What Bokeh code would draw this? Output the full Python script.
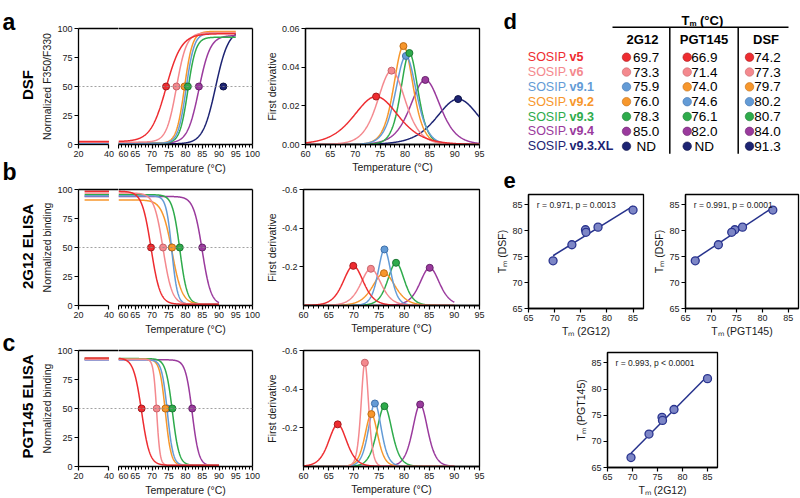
import numpy as np
from bokeh.plotting import figure
from bokeh.layouts import row, column
from bokeh.models import Range1d, LinearAxis, FixedTicker, Span, Title, Spacer, NumeralTickFormatter
from bokeh.core.properties import value
from bokeh.embed import file_html
from bokeh.resources import INLINE

FONT = "Liberation Sans"
INK = "#1a1a1a"

# ---------------- data ----------------
variant_tags = ["v5", "v6", "v9.1", "v9.2", "v9.3", "v9.4", "v9.3.XL"]
variant_colors = ["#ee2c30", "#f4898e", "#639bd6", "#f7972c", "#2eab4b", "#9a3a9d", "#1d2473"]
variant_edges = ["#a51b1f", "#c8636a", "#3d6fa9", "#bf6c12", "#1c7834", "#66226b", "#0d1245"]

tm_2g12 = [69.7, 73.3, 75.9, 76.0, 78.3, 85.0, None]
tm_pgt145 = [66.9, 71.4, 74.6, 74.0, 76.1, 82.0, None]
tm_dsf = [74.2, 77.3, 80.2, 79.7, 80.7, 84.0, 91.3]

# panel a: DSF melting curves (Boltzmann fit parameters)
dsf_mid = [74.2, 77.3, 80.2, 79.7, 80.7, 84.0, 89.0]
dsf_slope = [2.3, 1.5, 1.2, 1.2, 1.2, 1.7, 1.9]
dsf_low = [2.5, 2.0, 1.0, 1.0, 1.0, 1.0, 0.5]
dsf_high = [95.5, 96.5, 96.0, 97.5, 92.5, 94.0, 99.0]
dsf_peak_t = [74.2, 77.3, 80.2, 79.7, 80.9, 84.1, 90.7]
dsf_peak = [0.0248, 0.0382, 0.0458, 0.0509, 0.0473, 0.0334, 0.0235]
dsf_width = [3.0, 1.85, 1.4, 1.3, 1.15, 2.0, 2.9]

# panel b: 2G12 ELISA
g12_high = [98.5, 97.0, 94.5, 91.0, 95.5, 94.0]
g12_low = [1.0, 1.0, 1.0, 1.0, 1.0, 0.5]
g12_slope = [1.35, 1.35, 0.85, 1.5, 1.1, 1.3]
g12_peak_t = [69.9, 73.4, 76.1, 76.0, 78.4, 85.1]
g12_peak = [-0.205, -0.190, -0.290, -0.167, -0.221, -0.195]

# panel c: PGT145 ELISA
pgt_high = [93.5, 92.5, 92.0, 92.5, 93.0, 92.0]
pgt_low = [1.0, 1.0, 1.0, 1.0, 1.0, 0.5]
pgt_slope = [1.2, 0.5, 0.85, 0.85, 1.0, 1.0]
pgt_peak_t = [66.8, 72.2, 74.2, 73.5, 76.1, 83.2]
pgt_peak = [-0.218, -0.537, -0.326, -0.271, -0.312, -0.321]

# panel e
corr_notes = ["r = 0.971, p = 0.0013", "r = 0.991, p = 0.0001", "r = 0.993, p < 0.0001"]

temp_ticks = [60, 65, 70, 75, 80, 85, 90, 95, 100]
temp_minor = [t for t in range(60, 101) if t % 5]
low_ticks = [20, 40]
pct_ticks = [0, 25, 50, 75, 100]
dsf_deriv_ticks = [0.0, 0.02, 0.04, 0.06]
elisa_deriv_ticks = [-0.6, -0.4, -0.2]
tm_ticks = [65, 70, 75, 80, 85]
HALF = 50


def boltz(t, mid, s, lo, hi, rising):
    z = (mid - t) / s if rising else (t - mid) / s
    return lo + (hi - lo) / (1.0 + np.exp(z))


def peak_curve(t, t0, h, s):
    return h / np.cosh((t - t0) / (2.0 * s)) ** 2


def style_axis(ax, ticks, minor=(), label=None, fmt=None):
    ax.ticker = FixedTicker(ticks=list(ticks), minor_ticks=list(minor))
    ax.axis_line_color = "black"
    ax.axis_line_width = 1.3
    ax.major_tick_line_color = "black"
    ax.major_tick_line_width = 1.2
    ax.major_tick_in = 0
    ax.major_tick_out = 4
    ax.minor_tick_line_color = "black"
    ax.minor_tick_line_width = 1
    ax.minor_tick_in = 0
    ax.minor_tick_out = 3
    ax.major_label_text_font = FONT
    ax.major_label_text_font_size = "9px"
    ax.major_label_text_color = INK
    ax.major_label_standoff = 2
    if label:
        ax.axis_label = label
        ax.axis_label_text_font = FONT
        ax.axis_label_text_font_size = "10.5px"
        ax.axis_label_text_font_style = "normal"
        ax.axis_label_text_color = INK
        ax.axis_label_standoff = 1
    if fmt is not None:
        ax.formatter = fmt
    return ax


def border_axis():
    return LinearAxis(ticker=FixedTicker(ticks=[], minor_ticks=[]), axis_line_width=1.3,
                      axis_line_color="black", major_tick_in=0, major_tick_out=0,
                      minor_tick_in=0, minor_tick_out=0, major_label_text_font_size="0px")


def base_fig(**kw):
    return figure(output_backend="svg", toolbar_location=None, x_axis_type=None,
                  y_axis_type=None, **kw)


def melt_panel(h, top, bottom, rising, mids, slopes, lows, highs, tms, t_start, t_end, ylabel, n):
    common = dict(height=h, y_range=Range1d(0, 100), min_border_top=top, min_border_bottom=bottom,
                  outline_line_color=None)
    pl = base_fig(width=80, x_range=Range1d(20, 46.25), min_border_left=38, min_border_right=0, **common)
    pr = base_fig(width=144, x_range=Range1d(60, 100), min_border_left=0, min_border_right=10, **common)
    for p in (pl, pr):
        p.add_layout(Span(location=HALF, dimension="width", line_color="#8a8a8a",
                          line_dash="2 2", line_width=0.8))
        p.add_layout(border_axis(), "above")
    pl.add_layout(style_axis(LinearAxis(), pct_ticks, label=ylabel), "left")
    pl.add_layout(style_axis(LinearAxis(bounds=(20, 40)), low_ticks), "below")
    pr.add_layout(style_axis(LinearAxis(), temp_ticks, temp_minor), "below")
    pr.add_layout(border_axis(), "right")
    pr.add_layout(Title(text="Temperature (°C)", align="center", offset=-21, standoff=1,
                        text_font=FONT, text_font_size="10.5px", text_font_style="normal",
                        text_color=INK), "below")
    tl = np.linspace(t_start, 40, 60)
    tr = np.linspace(60, t_end, 400)
    for i in range(n - 1, -1, -1):
        pl.line(tl, boltz(tl, mids[i], slopes[i], lows[i], highs[i], rising),
                line_color=variant_colors[i], line_width=1.5)
        pr.line(tr, boltz(tr, mids[i], slopes[i], lows[i], highs[i], rising),
                line_color=variant_colors[i], line_width=1.5)
    pr.scatter(tms[:n], [HALF] * n, size=7, fill_color=variant_colors[:n],
               line_color=variant_edges[:n], line_width=1)
    return pl, pr


def deriv_panel(h, top, bottom, y_end, yticks, fmt, peak_t, peaks, widths, t_end, n):
    p = base_fig(width=228, height=h, x_range=Range1d(60, 95), y_range=Range1d(0, y_end),
                 min_border_left=40, min_border_right=11, min_border_top=top,
                 min_border_bottom=bottom, outline_line_color="black", outline_line_width=1.3)
    p.add_layout(style_axis(LinearAxis(), yticks, label="First derivative", fmt=fmt), "left")
    p.add_layout(style_axis(LinearAxis(), temp_ticks[:-1], [m for m in temp_minor if m < 95],
                            label="Temperature (°C)"), "below")
    t = np.linspace(60, t_end, 400)
    for i in range(n - 1, -1, -1):
        p.line(t, peak_curve(t, peak_t[i], peaks[i], widths[i]),
               line_color=variant_colors[i], line_width=1.5)
    p.scatter(peak_t[:n], peaks[:n], size=7, fill_color=variant_colors[:n],
              line_color=variant_edges[:n], line_width=1)
    return p


# ---------- row a ----------
aL, aR = melt_panel(175, 25, 31, True, dsf_mid, dsf_slope, dsf_low, dsf_high, tm_dsf, 20, 95,
                    "Normalized F350/F330", 7)
aD = deriv_panel(175, 28, 30, 0.06, dsf_deriv_ticks, NumeralTickFormatter(format="0.00"),
                 dsf_peak_t, dsf_peak, dsf_width, 95, 7)
# ---------- row b ----------
bL, bR = melt_panel(161, 12, 30, False, tm_2g12, g12_slope, g12_low, g12_high, tm_2g12, 24, 90,
                    "Normalized binding", 6)
bD = deriv_panel(161, 14, 30, -0.6, elisa_deriv_ticks, NumeralTickFormatter(format="0.0"),
                 g12_peak_t, g12_peak, g12_slope, 90, 6)
# ---------- row c ----------
cL, cR = melt_panel(162, 11, 32, False, tm_pgt145, pgt_slope, pgt_low, pgt_high, tm_pgt145, 24, 90,
                    "Normalized binding", 6)
cD = deriv_panel(162, 14, 32, -0.6, elisa_deriv_ticks, NumeralTickFormatter(format="0.0"),
                 pgt_peak_t, pgt_peak, pgt_slope, 90, 6)

# ---------- left label strip ----------
strip = base_fig(width=38, height=498, x_range=Range1d(0, 38), y_range=Range1d(498, 0),
                 min_border=0, outline_line_color=None)
strip.text(x=[2, 2, 2], y=[21, 171, 342], text=["a", "b", "c"], text_font=value(FONT),
           text_font_size="23px", text_font_style="bold", text_color="black",
           text_align="left", text_baseline="alphabetic")
strip.text(x=[27, 27, 27], y=[84.5, 246, 406], text=["DSF", "2G12 ELISA", "PGT145 ELISA"],
           angle=np.pi / 2, text_font=value(FONT), text_font_size="15px", text_font_style="bold",
           text_color="black", text_align="center", text_baseline="middle")

# ---------- panel d table ----------
tab = base_fig(width=310, height=193, x_range=Range1d(490, 800), y_range=Range1d(193, 0),
               min_border=0, outline_line_color=None)
row_y0, row_pitch = 56.7, 14.83
rows_y = [row_y0 + k * row_pitch for k in range(len(variant_tags))]
label_x = 527.3
tab.text(x=[label_x] * 7, y=rows_y, text=["SOSIP."] * 7, text_font=value(FONT),
         text_font_size="12.5px", text_color=variant_colors, text_align="left",
         text_baseline="middle")
tab.text(x=[label_x + 41.7] * 7, y=rows_y, text=variant_tags, text_font=value(FONT),
         text_font_size="12.5px", text_font_style="bold", text_color=variant_colors,
         text_align="left", text_baseline="middle")
col_names = ["2G12", "PGT145", "DSF"]
col_head_x = [642, 703.5, 765.5]
col_dot_x = [626, 686.7, 749]
col_val_x = [645.7, 703.8, 767]
tab.text(x=col_head_x, y=[39] * 3, text=col_names, text_font=value(FONT), text_font_size="13px",
         text_font_style="bold", text_color="black", text_align="center", text_baseline="middle")
tab.text(x=[681], y=[20], text=["T"], text_font=value(FONT), text_font_size="13px",
         text_font_style="bold", text_color="black", text_align="left", text_baseline="alphabetic")
tab.text(x=[689], y=[23], text=["m"], text_font=value(FONT), text_font_size="8px",
         text_font_style="bold", text_color="black", text_align="left", text_baseline="alphabetic")
tab.text(x=[699.5], y=[20], text=["(°C)"], text_font=value(FONT), text_font_size="13px",
         text_font_style="bold", text_color="black", text_align="left", text_baseline="alphabetic")
tab.segment(x0=[612], y0=[26.7], x1=[788], y1=[26.7], line_color="black", line_width=1.5)
tab.segment(x0=[669.3, 737.7], y0=[26.7, 26.7], x1=[669.3, 737.7], y1=[153.3, 153.3],
            line_color="black", line_width=1.5)
for c, vals in enumerate([tm_2g12, tm_pgt145, tm_dsf]):
    order = sorted(range(len(vals)), key=lambda i: (vals[i] is None, vals[i] or 0))
    tab.scatter([col_dot_x[c]] * 7, rows_y, size=8.5,
                fill_color=[variant_colors[i] for i in order],
                line_color=[variant_edges[i] for i in order], line_width=0.6)
    tab.text(x=[col_val_x[c]] * 7, y=rows_y,
             text=["ND" if vals[i] is None else f"{vals[i]:.1f}" for i in order],
             text_font=value(FONT), text_font_size="13.5px", text_color="black",
             text_align="center", text_baseline="middle")
tab.text(x=[503, 503], y=[21, 180], text=["d", "e"], text_font=value(FONT),
         text_font_size="22px", text_font_style="bold", text_color="black",
         text_align="left", text_baseline="alphabetic")


# ---------- panel e scatters ----------
def scatter_panel(w, h, left, right, top, bottom, xs, ys, xlabel, ylabel, note):
    p = base_fig(width=w, height=h, x_range=Range1d(65, 87), y_range=Range1d(65, 87),
                 min_border_left=left, min_border_right=right, min_border_top=top,
                 min_border_bottom=bottom, outline_line_color="black", outline_line_width=1.3)
    p.add_layout(style_axis(LinearAxis(), tm_ticks, label=ylabel), "left")
    p.add_layout(style_axis(LinearAxis(), tm_ticks, label=xlabel), "below")
    fit = np.polyfit(xs, ys, 1)
    xx = np.array([min(xs), max(xs)])
    p.line(xx, np.polyval(fit, xx), line_color="#26328c", line_width=1.5)
    p.scatter(xs, ys, size=8, fill_color="#7d86c6", line_color="#2b358f", line_width=1.3)
    p.text(x=[66.6], y=[85], text=[note], text_font=value(FONT), text_font_size="8.5px",
           text_color=INK, text_align="left", text_baseline="middle")
    return p


e1 = scatter_panel(160, 147, 38, 7, 1, 32, tm_2g12[:6], tm_dsf[:6], "Tₘ (2G12)", "Tₘ (DSF)", corr_notes[0])
e2 = scatter_panel(150, 147, 34, 2, 1, 32, tm_pgt145[:6], tm_dsf[:6], "Tₘ (PGT145)", "Tₘ (DSF)", corr_notes[1])
e3 = scatter_panel(160, 158, 37, 13, 12, 31, tm_2g12[:6], tm_pgt145[:6], "Tₘ (2G12)", "Tₘ (PGT145)", corr_notes[2])

left_block = column(row(aL, aR, aD), row(bL, bR, bD), row(cL, cR, cD))
right_block = column(tab, row(e1, e2), row(Spacer(width=80, height=158), e3, Spacer(width=70, height=158)))
layout = row(strip, left_block, right_block)

open("out.html", "w").write(file_html(layout, INLINE))
